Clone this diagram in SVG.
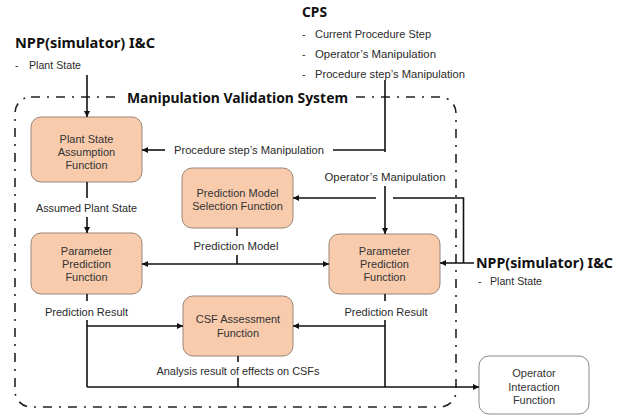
<svg xmlns="http://www.w3.org/2000/svg" width="624" height="416" viewBox="0 0 624 416">
<style>
text{font-family:"Liberation Sans",Arial,sans-serif;fill:#2a2a2a}
.h{font-family:"Noto Sans","Open Sans",sans-serif;font-weight:bold;font-size:14px;fill:#111}
.t{font-family:"Noto Sans","Open Sans",sans-serif;font-weight:bold;font-size:14.5px;fill:#111}
.l{font-size:10.5px}
.b{font-size:11px;text-anchor:middle;fill:#333}
.c{text-anchor:middle}
.box{fill:#F8CBAD;stroke:#9C8678;stroke-width:1}
.obox{fill:#fff;stroke:#8a8a8a;stroke-width:1}
.ln{fill:none;stroke:#111;stroke-width:1.6}
.bd{fill:none;stroke:#222;stroke-width:1.6;stroke-dasharray:9 7 2 7}
</style>
<defs>
<marker id="ah" markerUnits="userSpaceOnUse" markerWidth="8" markerHeight="8" refX="6" refY="3" orient="auto">
<path d="M0,0 L6,3 L0,6 z" fill="#111"/>
</marker>
</defs>

<rect x="15" y="97" width="441" height="310" rx="16" class="bd"/>
<rect x="121" y="88" width="232" height="19" fill="#fff"/>
<text class="t" x="127" y="103" textLength="221" lengthAdjust="spacingAndGlyphs">Manipulation Validation System</text>

<g id="npp-left">
<text class="h" x="15" y="48" textLength="140" lengthAdjust="spacingAndGlyphs">NPP(simulator) I&amp;C</text>
<text class="l" x="15" y="69">-</text>
<text class="l" x="29" y="69" textLength="52" lengthAdjust="spacingAndGlyphs">Plant State</text>
</g>

<g id="cps">
<text class="h" x="302" y="17" textLength="25" lengthAdjust="spacingAndGlyphs">CPS</text>
<text class="l" x="302" y="38">-</text>
<text class="l" x="315" y="38" textLength="116" lengthAdjust="spacingAndGlyphs">Current Procedure Step</text>
<text class="l" x="302" y="58">-</text>
<text class="l" x="315" y="58" textLength="121" lengthAdjust="spacingAndGlyphs">Operator’s Manipulation</text>
<text class="l" x="302" y="78">-</text>
<text class="l" x="315" y="78" textLength="150" lengthAdjust="spacingAndGlyphs">Procedure step’s Manipulation</text>
</g>

<g id="npp-right">
<text class="h" x="476" y="268" textLength="137" lengthAdjust="spacingAndGlyphs">NPP(simulator) I&amp;C</text>
<text class="l" x="478" y="285">-</text>
<text class="l" x="490" y="285" textLength="52" lengthAdjust="spacingAndGlyphs">Plant State</text>
</g>

<g id="plant-state-assumption">
<rect class="box" x="31" y="117" width="111" height="65" rx="10"/>
<text class="b" x="86.5" y="143">Plant State</text>
<text class="b" x="86.5" y="156">Assumption</text>
<text class="b" x="86.5" y="169">Function</text>
</g>

<g id="prediction-model-selection">
<rect class="box" x="182" y="168" width="111" height="60" rx="10"/>
<text class="b" x="237.5" y="197">Prediction Model</text>
<text class="b" x="237.5" y="210">Selection Function</text>
</g>

<g id="parameter-prediction-left">
<rect class="box" x="31" y="233" width="111" height="61" rx="10"/>
<text class="b" x="86.5" y="255">Parameter</text>
<text class="b" x="86.5" y="268">Prediction</text>
<text class="b" x="86.5" y="281">Function</text>
</g>

<g id="parameter-prediction-right">
<rect class="box" x="329" y="234" width="111" height="60" rx="10"/>
<text class="b" x="384.5" y="255">Parameter</text>
<text class="b" x="384.5" y="268">Prediction</text>
<text class="b" x="384.5" y="281">Function</text>
</g>

<g id="csf-assessment">
<rect class="box" x="183" y="296" width="110" height="60" rx="10"/>
<text class="b" x="238" y="323">CSF Assessment</text>
<text class="b" x="238" y="337">Function</text>
</g>

<g id="operator-interaction">
<rect class="obox" x="479" y="356" width="110" height="58" rx="10"/>
<text class="b" x="534" y="377">Operator</text>
<text class="b" x="534" y="391">Interaction</text>
<text class="b" x="534" y="404">Function</text>
</g>

<g id="connectors">
<path class="ln" d="M87,75 V117" marker-end="url(#ah)"/>
<path class="ln" d="M385,80 V152"/>
<path class="ln" d="M333,150 H385"/>
<path class="ln" d="M165,150 H142" marker-end="url(#ah)"/>
<text class="l c" x="249" y="154" textLength="150" lengthAdjust="spacingAndGlyphs">Procedure step’s Manipulation</text>
<text class="l c" x="385" y="181" textLength="121" lengthAdjust="spacingAndGlyphs">Operator’s Manipulation</text>
<path class="ln" d="M385,186 V234" marker-end="url(#ah)"/>
<path class="ln" d="M474,263 H440" marker-end="url(#ah)"/>
<path class="ln" d="M463.5,263 V198 H393"/>
<path class="ln" d="M376,198 H293" marker-end="url(#ah)"/>
<path class="ln" d="M87,182 V198"/>
<text class="l c" x="86.5" y="212" textLength="101" lengthAdjust="spacingAndGlyphs">Assumed Plant State</text>
<path class="ln" d="M87,217 V233" marker-end="url(#ah)"/>
<path class="ln" d="M237,228 V236"/>
<text class="l c" x="236" y="250" textLength="85" lengthAdjust="spacingAndGlyphs">Prediction Model</text>
<path class="ln" d="M237,255 V264"/>
<path class="ln" d="M237,264 H142" marker-end="url(#ah)"/>
<path class="ln" d="M237,264 H329" marker-end="url(#ah)"/>
<path class="ln" d="M87,294 V301"/>
<text class="l c" x="86.5" y="316" textLength="83" lengthAdjust="spacingAndGlyphs">Prediction Result</text>
<path class="ln" d="M87,320 V387"/>
<path class="ln" d="M87,326 H183" marker-end="url(#ah)"/>
<path class="ln" d="M385,294 V301"/>
<text class="l c" x="386" y="316" textLength="83" lengthAdjust="spacingAndGlyphs">Prediction Result</text>
<path class="ln" d="M385,320 V387"/>
<path class="ln" d="M385,326 H293" marker-end="url(#ah)"/>
<path class="ln" d="M238,356 V362"/>
<text class="l c" x="238" y="375" textLength="163" lengthAdjust="spacingAndGlyphs">Analysis result of effects on CSFs</text>
<path class="ln" d="M238,378 V387"/>
<path class="ln" d="M87,387 H479" marker-end="url(#ah)"/>
</g>
</svg>
